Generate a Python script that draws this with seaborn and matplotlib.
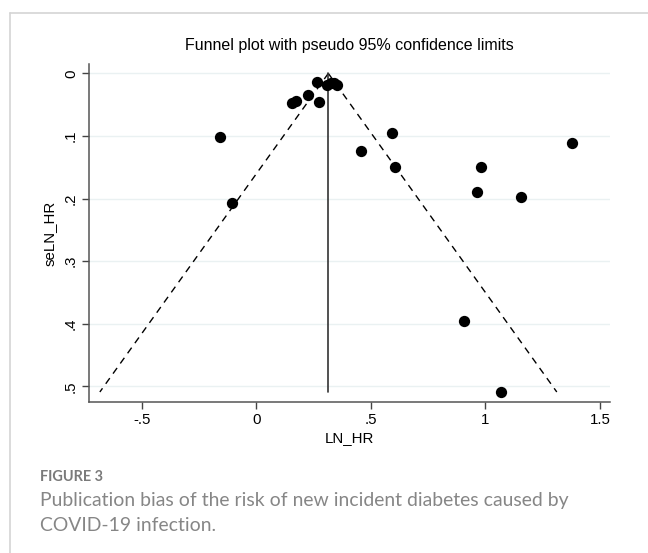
import matplotlib
matplotlib.use("Agg")
import matplotlib.pyplot as plt
from matplotlib.lines import Line2D
import seaborn as sns
import pandas as pd
import numpy as np

# Data
ln_hr = [-0.161, -0.105, 0.156, 0.174, 0.224, 0.264, 0.272, 0.308, 0.325,
         0.340, 0.352, 0.455, 0.594, 0.605, 0.907, 0.965, 0.981, 1.067,
         1.157, 1.378]
se_ln_hr = [0.102, 0.207, 0.048, 0.044, 0.034, 0.013, 0.046, 0.018, 0.016,
            0.016, 0.019, 0.124, 0.095, 0.150, 0.396, 0.189, 0.150, 0.509,
            0.198, 0.112]
pooled_theta = 0.314
x_ticks = [-0.5, 0, 0.5, 1, 1.5]
x_tick_labels = ["-.5", "0", ".5", "1", "1.5"]
y_ticks = [0, 0.1, 0.2, 0.3, 0.4, 0.5]
y_tick_labels = ["0", ".1", ".2", ".3", ".4", ".5"]

df = pd.DataFrame({"LN_HR": ln_hr, "seLN_HR": se_ln_hr})

sns.set_theme(style="white")
plt.rcParams["font.family"] = ["Liberation Sans", "DejaVu Sans"]

W, H, DPI = 648, 553, 100
fig = plt.figure(figsize=(W / DPI, H / DPI), dpi=DPI)
fig.patch.set_facecolor("white")
ax = fig.add_axes([89 / W, 1 - 402 / H, (610 - 89) / W, (402 - 64) / H])

# gridlines
for yt in y_ticks:
    ax.axhline(yt, color="#eaf1f2", lw=1.0, zorder=0)

# funnel lines
se_max = max(se_ln_hr)
se_line = np.array([0.0, se_max])
ax.plot(pooled_theta - 1.96 * se_line, se_line, color="black", lw=1.0,
        linestyle=(0, (5, 4)), zorder=2)
ax.plot(pooled_theta + 1.96 * se_line, se_line, color="black", lw=1.0,
        linestyle=(0, (5, 4)), zorder=2)
ax.plot([pooled_theta, pooled_theta], [0, se_max], color="#333333", lw=1.2, zorder=2)

sns.scatterplot(data=df, x="LN_HR", y="seLN_HR", ax=ax, color="black",
                s=66, edgecolor="black", linewidth=0, zorder=3, legend=False)

ax.set_xlim(-0.731, 1.544)
ax.set_ylim(0.525, -0.015)
ax.set_xticks(x_ticks)
ax.set_xticklabels(x_tick_labels)
ax.set_yticks(y_ticks)
ax.set_yticklabels(y_tick_labels, rotation=90, va="center")

fs_tick = 15 * 72 / DPI
ax.tick_params(axis="both", which="major", direction="out", length=5, width=1,
               color="#444444", labelsize=fs_tick, labelcolor="black",
               bottom=True, left=True, pad=3)
for side in ["top", "right"]:
    ax.spines[side].set_visible(False)
for side in ["left", "bottom"]:
    ax.spines[side].set_color("#555555")
    ax.spines[side].set_linewidth(1.1)

ax.set_xlabel("LN_HR", fontsize=fs_tick, color="black", labelpad=3)
ax.set_ylabel("seLN_HR", fontsize=fs_tick, color="black", labelpad=5)
ax.set_title("Funnel plot with pseudo 95% confidence limits",
             fontsize=16 * 72 / DPI, color="black", pad=10)

# outer frame (top and left lines)
fig.add_artist(Line2D([10 / W, 1.0], [1 - 13 / H, 1 - 13 / H], color="#d4d4d4",
                      lw=1.2, transform=fig.transFigure))
fig.add_artist(Line2D([10 / W, 10 / W], [0.0, 1 - 13 / H], color="#d4d4d4",
                      lw=1.2, transform=fig.transFigure))

# caption
cap_family = ["Lato", "DejaVu Sans"]
fig.text(40 / W, 1 - 481 / H, "FIGURE 3", fontsize=14.5 * 72 / DPI,
         color="#7a7a7a", family=cap_family, weight="bold", va="baseline")
fig.text(40 / W, 1 - 506 / H,
         "Publication bias of the risk of new incident diabetes caused by",
         fontsize=19.4 * 72 / DPI, color="#868686", family=cap_family,
         va="baseline")
fig.text(40 / W, 1 - 531 / H, "COVID-19 infection.",
         fontsize=19.4 * 72 / DPI, color="#868686", family=cap_family,
         va="baseline")

fig.savefig("out.png", dpi=DPI, facecolor="white")
